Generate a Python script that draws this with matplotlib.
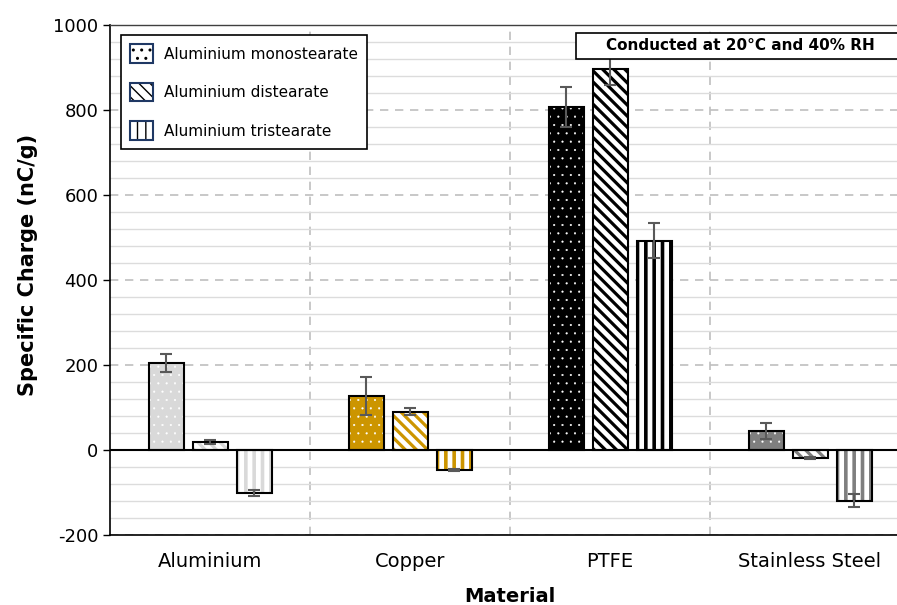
import matplotlib
matplotlib.use("Agg")
import matplotlib.pyplot as plt
import numpy as np
from matplotlib.patches import Patch, Rectangle
from matplotlib.legend_handler import HandlerTuple

# --- data ---
materials = ["Aluminium", "Copper", "PTFE", "Stainless Steel"]
series = ["Aluminium monostearate", "Aluminium distearate", "Aluminium tristearate"]
mono = [205, 127, 808, 45]
mono_err = [21, 45, 47, 18]
di = [19, 90, 897, -19]
di_err = [5, 8, 39, 3]
tri = [-101, -47, 492, -119]
tri_err = [7, 2, 41, 15]
mat_colors = ["#d9d9d9", "#cc9500", "#000000", "#7f7f7f"]

plt.rcParams["font.family"] = ["DejaVu Sans"]
plt.rcParams["axes.unicode_minus"] = False

fig = plt.figure(figsize=(8.97, 6.05), dpi=100)
W, H = 897, 605
ax = fig.add_axes([110 / W, (H - 535) / H, 800 / W, 510 / H])

x = np.arange(len(materials))
width = 0.175
offsets = [-0.22, 0.0, 0.22]
hatches = ["..", "\\" * 3, "||"]
hatch_lw = [0.3, 2.3, 2.6]

for k, (vals, errs) in enumerate([(mono, mono_err), (di, di_err), (tri, tri_err)]):
    if k == 0:
        face = mat_colors
        hcol = ["white"] * 4
    else:
        face = ["white"] * 4
        hcol = mat_colors
    with plt.rc_context({"hatch.linewidth": hatch_lw[k]}):
        ax.bar(x + offsets[k], vals, width, color=face, edgecolor=hcol,
               hatch=hatches[k], linewidth=0, zorder=2)
    ax.bar(x + offsets[k], vals, width, fill=False, edgecolor="black",
           linewidth=1.5, zorder=3)
    ax.errorbar(x + offsets[k], vals, yerr=errs, fmt="none", ecolor="#595959",
                elinewidth=1.5, capsize=4, capthick=1.5, zorder=4)

# --- axes styling ---
ax.set_xlim(-0.5, 3.5)
ax.set_ylim(-200, 1000)
ax.set_yticks(np.arange(-200, 1001, 200))
ax.set_yticks(np.arange(-200, 1001, 40), minor=True)
ax.tick_params(axis="y", which="major", labelsize=13, length=5, width=1, direction="out")
ax.tick_params(axis="y", which="minor", length=0)
ax.set_xticks(x)
ax.set_xticklabels(materials)
ax.tick_params(axis="x", length=0, labelsize=14, pad=12)

ax.grid(axis="y", which="minor", color="#dcdcdc", linewidth=1, zorder=0)
ax.grid(axis="y", which="major", color="#bfbfbf", linewidth=1.2,
        linestyle=(0, (5, 4)), zorder=0)
for b in [0.5, 1.5, 2.5]:
    ax.axvline(b, color="#bfbfbf", linewidth=1.2, linestyle=(0, (5, 4)), zorder=0)
ax.set_axisbelow(True)
ax.axhline(0, color="black", linewidth=1.5, zorder=3.5)

for s in ["left", "bottom"]:
    ax.spines[s].set_color("black")
    ax.spines[s].set_linewidth(1.2)
ax.spines["top"].set_color("#404040")
ax.spines["top"].set_linewidth(1)
ax.spines["right"].set_visible(False)

fig.text(28 / W, 1 - 265 / H, "Specific Charge (nC/g)", rotation=90,
         fontsize=15, fontweight="bold", ha="center", va="center")
fig.text(510 / W, 1 - 596 / H, "Material", fontsize=14, fontweight="bold",
         ha="center", va="center")

# --- legend ---
handles = []
leg_hatches = ["..", "\\" * 3, "||"]
for k in range(3):
    with plt.rc_context({"hatch.linewidth": [0.3, 3.0, 2.8][k]}):
        p1 = Patch(facecolor="white", edgecolor="black", hatch=leg_hatches[k], linewidth=0)
    p2 = Patch(facecolor="none", edgecolor="#1f3864", linewidth=1.5)
    handles.append((p1, p2))
leg = ax.legend(handles, series, handler_map={tuple: HandlerTuple(ndivide=1)},
                loc="upper left", bbox_to_anchor=(121 / W, 1 - 35 / H),
                bbox_transform=fig.transFigure, borderaxespad=0, fontsize=11,
                handlelength=1.5, handleheight=1.5, handletextpad=0.7,
                labelspacing=1.3, borderpad=0.6, fancybox=False,
                framealpha=1, edgecolor="black")
leg.get_frame().set_linewidth(1.2)
leg.set_zorder(6)

# --- annotation box ---
fig.patches.append(Rectangle((576 / W, 1 - 59 / H), 340 / W, 26 / H,
                             transform=fig.transFigure, facecolor="white",
                             edgecolor="black", linewidth=1.2, zorder=5))
fig.text(740 / W, 1 - 46 / H, "Conducted at 20°C and 40% RH", fontsize=11,
         fontweight="bold", ha="center", va="center", zorder=6)

fig.savefig("out.png", dpi=100)
